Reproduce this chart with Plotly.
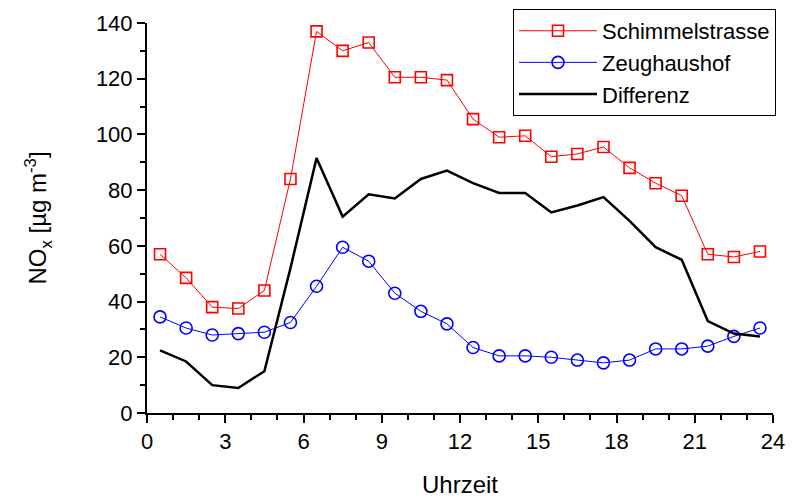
import plotly.graph_objects as go

hours = [0.5, 1.5, 2.5, 3.5, 4.5, 5.5, 6.5, 7.5, 8.5, 9.5, 10.5, 11.5,
         12.5, 13.5, 14.5, 15.5, 16.5, 17.5, 18.5, 19.5, 20.5, 21.5, 22.5, 23.5]
schimmelstrasse = [57, 48.5, 38, 37.5, 44, 84, 137, 130, 133, 120.5, 120.5, 119.5,
                   105.5, 99, 99.5, 92, 93, 95.5, 88, 82.5, 78, 57, 56, 58]
zeughaushof = [34.5, 30.5, 28, 28.5, 29, 32.5, 45.5, 59.5, 54.5, 43, 36.5, 32,
               23.5, 20.5, 20.5, 20, 19, 18, 19, 23, 23, 24, 27.5, 30.5]
differenz = [22.5, 18.5, 10, 9, 15, 52, 91.5, 70.5, 78.5, 77, 84, 87,
             82.5, 79, 79, 72, 74.5, 77.5, 69, 59.5, 55, 33, 28.5, 27.5]

x_ticks = [0, 3, 6, 9, 12, 15, 18, 21, 24]
y_ticks = [0, 20, 40, 60, 80, 100, 120, 140]

font = "Liberation Sans, Arial, sans-serif"

fig = go.Figure()
fig.add_trace(go.Scatter(
    x=hours, y=schimmelstrasse, name="Schimmelstrasse", mode="lines+markers",
    line=dict(color="#ff0000", width=1),
    marker=dict(symbol="square-open", size=11, color="#ff0000", line=dict(width=1.6)),
))
fig.add_trace(go.Scatter(
    x=hours, y=zeughaushof, name="Zeughaushof", mode="lines+markers",
    line=dict(color="#0000ff", width=1),
    marker=dict(symbol="circle-open", size=12, color="#0000ff", line=dict(width=1.6)),
))
fig.add_trace(go.Scatter(
    x=hours, y=differenz, name="Differenz", mode="lines",
    line=dict(color="#000000", width=2.5),
))

fig.update_layout(
    width=796, height=492,
    margin=dict(l=139, r=31, t=15, b=87, autoexpand=False),
    plot_bgcolor="white", paper_bgcolor="white",
    font=dict(family=font, size=22, color="black"),
    showlegend=True,
    legend=dict(
        x=1.0048, xanchor="right", y=1.036, yanchor="top",
        bordercolor="black", borderwidth=1, bgcolor="white",
        font=dict(size=22, family=font),
        tracegroupgap=0, itemwidth=78,
    ),
    xaxis=dict(
        range=[0, 24], tickvals=x_ticks, ticktext=[str(v) for v in x_ticks],
        showgrid=False, zeroline=False, showline=True, linecolor="black", linewidth=2,
        ticks="outside", ticklen=8, tickwidth=2, tickcolor="black", automargin=False,
        minor=dict(dtick=1, tick0=0, ticks="outside", ticklen=5, tickwidth=2, tickcolor="black"),
        tickfont=dict(size=22),
        title=dict(text="Uhrzeit", font=dict(size=24), standoff=23),
    ),
    yaxis=dict(
        range=[0, 140], tickvals=y_ticks, ticktext=[str(v) for v in y_ticks],
        showgrid=False, zeroline=False, showline=True, linecolor="black", linewidth=2,
        ticks="outside", ticklen=8, tickwidth=2, tickcolor="black", automargin=False,
        minor=dict(dtick=10, tick0=0, ticks="outside", ticklen=5, tickwidth=2, tickcolor="black"),
        tickfont=dict(size=22),
        title=dict(text="NO<sub>x</sub> [µg m<sup>-3</sup>]", font=dict(size=24), standoff=42),
    ),
)

fig.write_html("out.html")
